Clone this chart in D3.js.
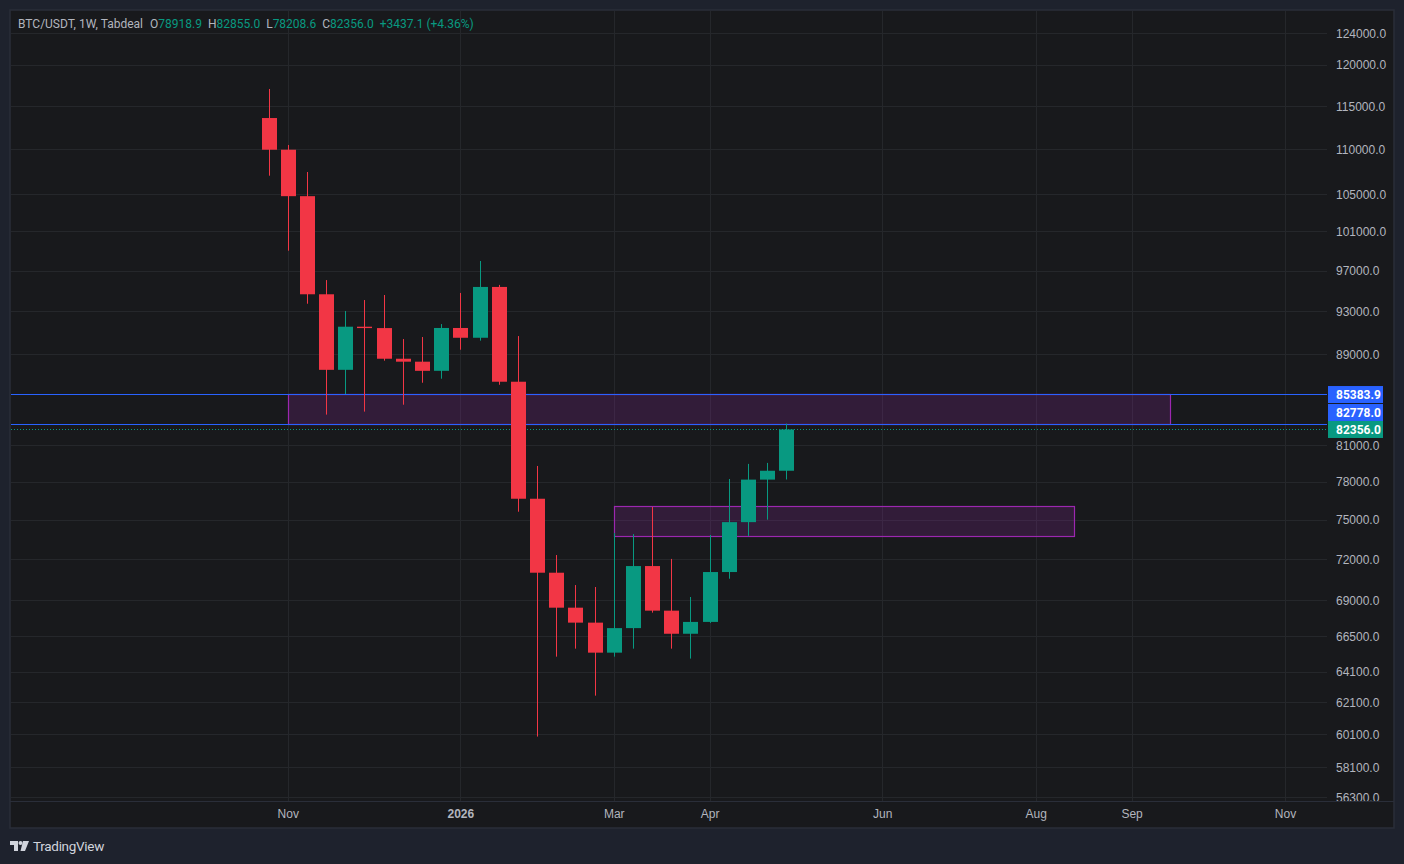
<!DOCTYPE html>
<html>
<head>
<meta charset="utf-8">
<script src="https://cdn.jsdelivr.net/npm/d3@7"></script>
<style>
  body { margin: 0; background: #1e222d; }
  svg { display: block; font-family: Roboto, "Noto Sans", sans-serif; }
</style>
</head>
<body>
<svg id="chart" width="1404" height="864"></svg>
<script>
// weekly candles, first one is the week of 27 Oct 2025
const opens  = [113610, 109950, 104800, 94700, 87590, 91580, 91450, 88600, 88330, 87500, 91460, 90540, 95420, 86520,
                76670, 71030, 68510, 67460, 65400, 67080, 71520, 68300, 66690, 67510, 71080, 74840, 78200, 78918.9];
const highs  = [117070, 110490, 107450, 96100, 93080, 94140, 94630, 90420, 90610, 91830, 94830, 98010, 95620, 90700,
                79310, 72340, 70130, 69990, 74000, 73920, 76020, 72050, 69270, 73850, 78250, 79480, 79560, 82855.0];
const lows   = [107040, 99060, 93780, 83630, 85430, 83890, 88420, 84490, 86430, 86790, 89430, 90270, 86250, 75650,
                59970, 65130, 65670, 62560, 65130, 65670, 68160, 65670, 65000, 67440, 70590, 73780, 75030, 78208.6];
const closes = [109950, 104800, 94700, 87590, 91580, 91450, 88600, 88330, 87500, 91460, 90540, 95420, 86520, 76670,
                71030, 68510, 67460, 65400, 67080, 71520, 68300, 66690, 67510, 71080, 74840, 78200, 78918.9, 82356.0];

const priceTicks = [124000, 120000, 115000, 110000, 105000, 101000, 97000, 93000, 89000, 81000, 78000,
                    75000, 72000, 69000, 66500, 64100, 62100, 60100, 58100, 56300];
const timeTickIdx = [1, 10, 18, 23, 32, 40, 45, 53];
const timeTickLabels = ["Nov", "2026", "Mar", "Apr", "Jun", "Aug", "Sep", "Nov"];

// horizontal levels and zones
const levelValues = [85383.9, 82778.0, 82356.0];
const levelKinds = ["line", "line", "last"];
const zoneTop = [85383.9, 76050];
const zoneBottom = [82778.0, 73750];
const zoneStart = [1, 18];
const zoneEnd = [47, 42];

const headerValues = ["78918.9", "82855.0", "78208.6", "82356.0"];
const headerKeys = ["O", "H", "L", "C"];
const headerChange = "+3437.1 (+4.36%)";

// visible range of the pane
const visiblePrice = [56109, 127021];
const visibleIdx = [-13.43, 55.19];

const UP = "#089981", DOWN = "#f23645", BLUE = "#2962ff", PURPLE = "#9c27b0";
const GRID = "#25272b", TEXT = "#b2b5be";

const pane = { left: 10, top: 10, right: 1394, bottom: 828 };
const plot = { left: 11, top: 11, right: 1327, bottom: 801 };

const svg = d3.select("#chart");

svg.append("rect")
  .attr("x", pane.left).attr("y", pane.top)
  .attr("width", pane.right - pane.left).attr("height", pane.bottom - pane.top)
  .attr("fill", "#18191c").attr("stroke", "#2a2e39").attr("stroke-width", 1.5);

const x = d3.scaleLinear().domain(visibleIdx).range([plot.left, plot.right]);
const y = d3.scaleLog().domain(visiblePrice).range([plot.bottom, 10]);
const py = (v) => Math.floor(y(v)) + 0.5;
const bodyW = 15;

svg.append("clipPath").attr("id", "plotClip")
  .append("rect").attr("x", plot.left).attr("y", plot.top)
  .attr("width", plot.right - plot.left).attr("height", plot.bottom - plot.top);
svg.append("clipPath").attr("id", "axisClip")
  .append("rect").attr("x", plot.right).attr("y", plot.top)
  .attr("width", pane.right - plot.right).attr("height", plot.bottom - plot.top);

const g = svg.append("g").attr("clip-path", "url(#plotClip)");

// grid
g.selectAll(".hgrid").data(priceTicks).enter().append("line")
  .attr("x1", plot.left).attr("x2", plot.right)
  .attr("y1", py).attr("y2", py)
  .attr("stroke", GRID).attr("stroke-width", 1);
g.selectAll(".vgrid").data(timeTickIdx).enter().append("line")
  .attr("x1", (d) => Math.round(x(d)) + 0.5).attr("x2", (d) => Math.round(x(d)) + 0.5)
  .attr("y1", plot.top).attr("y2", plot.bottom)
  .attr("stroke", GRID).attr("stroke-width", 1);

// zones
zoneTop.forEach((top, i) => {
  g.append("rect")
    .attr("x", Math.round(x(zoneStart[i])) + 0.5)
    .attr("y", py(top))
    .attr("width", Math.round(x(zoneEnd[i])) - Math.round(x(zoneStart[i])))
    .attr("height", py(zoneBottom[i]) - py(top))
    .attr("fill", "rgba(156,39,176,0.2)")
    .attr("stroke", PURPLE).attr("stroke-width", 1.2);
});

// level lines
levelValues.forEach((v, i) => {
  const last = levelKinds[i] === "last";
  g.append("line")
    .attr("x1", plot.left).attr("x2", plot.right)
    .attr("y1", py(v)).attr("y2", py(v))
    .attr("stroke", last ? UP : BLUE)
    .attr("stroke-width", last ? 1 : 1.2)
    .attr("stroke-dasharray", last ? "1,2" : null);
});

// candles
const idx = d3.range(opens.length);
const color = (i) => (closes[i] >= opens[i] ? UP : DOWN);

g.selectAll(".wick").data(idx).enter().append("line")
  .attr("x1", (i) => Math.round(x(i)) + 0.5).attr("x2", (i) => Math.round(x(i)) + 0.5)
  .attr("y1", (i) => y(highs[i])).attr("y2", (i) => y(lows[i]))
  .attr("stroke", color).attr("stroke-width", 1);

g.selectAll(".body").data(idx).enter().append("rect")
  .attr("x", (i) => Math.round(x(i)) + 0.5 - bodyW / 2)
  .attr("y", (i) => y(Math.max(opens[i], closes[i])))
  .attr("width", bodyW)
  .attr("height", (i) => Math.max(1, y(Math.min(opens[i], closes[i])) - y(Math.max(opens[i], closes[i]))))
  .attr("fill", color);

// right price axis
const yAxis = svg.append("g")
  .attr("clip-path", "url(#axisClip)")
  .append("g")
  .attr("transform", `translate(${plot.right + 9},0)`)
  .call(d3.axisRight(y).tickValues(priceTicks).tickFormat((d) => d.toFixed(1)).tickSize(0).tickPadding(0));
yAxis.select(".domain").remove();
yAxis.selectAll("text").attr("fill", TEXT).style("font-size", "12px").attr("text-anchor", "start");

// price labels, stacked so they don't overlap
const order = d3.range(levelValues.length).sort((a, b) => levelValues[a] - levelValues[b]);
let prev = Infinity;
const labelY = [];
order.forEach((i) => {
  const c = Math.min(y(levelValues[i]), prev - 17);
  labelY[i] = c;
  prev = c;
});
levelValues.forEach((v, i) => {
  const lg = svg.append("g").attr("transform", `translate(${plot.right + 1},${labelY[i]})`);
  lg.append("rect")
    .attr("x", 0).attr("y", -8.5).attr("width", 55).attr("height", 17)
    .attr("fill", levelKinds[i] === "last" ? UP : BLUE);
  lg.append("text")
    .attr("x", 8).attr("y", 0).attr("dy", "0.35em")
    .attr("fill", "#ffffff").style("font-size", "12px").style("font-weight", "bold")
    .text(v.toFixed(1));
});

// time axis
svg.append("line")
  .attr("x1", pane.left).attr("x2", pane.right)
  .attr("y1", plot.bottom + 0.5).attr("y2", plot.bottom + 0.5)
  .attr("stroke", "#2a2e39");

const xAxis = svg.append("g")
  .attr("transform", `translate(0,${plot.bottom + 8})`)
  .call(d3.axisBottom(x).tickValues(timeTickIdx).tickFormat((d, i) => timeTickLabels[i]).tickSize(0).tickPadding(0));
xAxis.select(".domain").remove();
xAxis.selectAll("text")
  .attr("fill", TEXT).style("font-size", "12px")
  .style("font-weight", (d, i) => (/^\d{4}$/.test(timeTickLabels[i]) ? "bold" : "normal"));

// header legend
const header = svg.append("text")
  .attr("x", 18).attr("y", 28)
  .style("font-size", "12px");
header.append("tspan").attr("fill", TEXT).text("BTC/USDT, 1W, Tabdeal");
headerKeys.forEach((k, i) => {
  header.append("tspan").attr("fill", TEXT).attr("dx", i === 0 ? 7 : 6).text(k);
  header.append("tspan").attr("fill", UP).text(headerValues[i]);
});
header.append("tspan").attr("fill", UP).attr("dx", 6).text(headerChange);

// TradingView mark
const logo = svg.append("g").attr("transform", "translate(10,841)").attr("fill", "#d1d4dc");
logo.append("path").attr("d", "M0,0 H8 V10 H4 V4 H0 Z");
logo.append("circle").attr("cx", 10.5).attr("cy", 2).attr("r", 2);
logo.append("path").attr("d", "M13,0 H19 L15,10 H10.5 Z");
svg.append("text")
  .attr("x", 33).attr("y", 851)
  .attr("fill", "#d1d4dc").style("font-size", "13.5px").style("letter-spacing", "-0.3px")
  .text("TradingView");
</script>
</body>
</html>
